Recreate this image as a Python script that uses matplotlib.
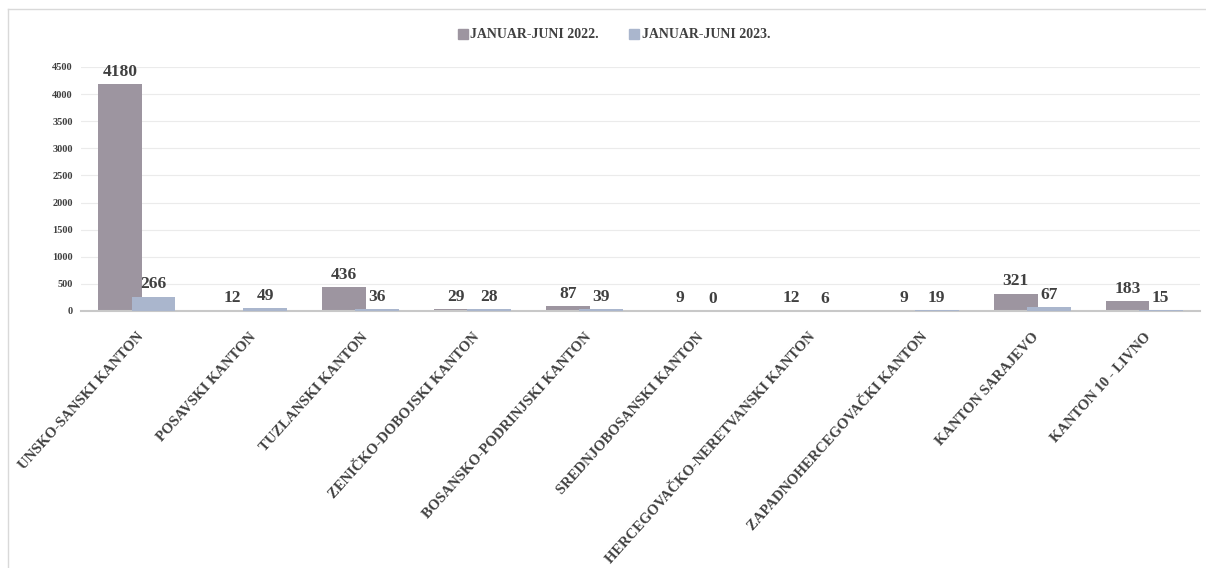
import matplotlib
matplotlib.use('Agg')
import matplotlib.pyplot as plt
import numpy as np
from matplotlib.lines import Line2D

kantoni = ['UNSKO-SANSKI KANTON', 'POSAVSKI KANTON', 'TUZLANSKI KANTON',
           'ZENIČKO-DOBOJSKI KANTON', 'BOSANSKO-PODRINJSKI KANTON',
           'SREDNJOBOSANSKI KANTON', 'HERCEGOVAČKO-NERETVANSKI KANTON',
           'ZAPADNOHERCEGOVAČKI KANTON', 'KANTON SARAJEVO', 'KANTON 10 - LIVNO']
god_2022 = [4180, 12, 436, 29, 87, 9, 12, 9, 321, 183]
god_2023 = [266, 49, 36, 28, 39, 0, 6, 19, 67, 15]
y_ticks = [0, 500, 1000, 1500, 2000, 2500, 3000, 3500, 4000, 4500]

c22 = '#9d95a0'
c23 = '#aab6cd'
txt = '#404040'
serif = ['Liberation Serif', 'DejaVu Serif']

fig = plt.figure(figsize=(12.06, 5.68), dpi=100)
ax = fig.add_axes([81 / 1206, 1 - 311 / 568, 1119 / 1206, 244 / 568])

x = np.arange(len(kantoni))
w = 0.393
off = 0.148
ax.bar(x - off, god_2022, w, color=c22, zorder=2)
ax.bar(x + off, god_2023, w, color=c23, zorder=3)

for xi, v in zip(x, god_2022):
    ax.annotate(str(v), (xi - off, v), xytext=(0, 3), textcoords='offset points',
                ha='center', va='bottom', fontsize=12.5, fontweight='bold',
                color=txt, family=serif, zorder=5)
for xi, v in zip(x, god_2023):
    ax.annotate(str(v), (xi + off, v), xytext=(0, 3), textcoords='offset points',
                ha='center', va='bottom', fontsize=12.5, fontweight='bold',
                color=txt, family=serif, zorder=5)

ax.set_xlim(-0.5, len(kantoni) - 0.5)
ax.set_ylim(0, 4500)
ax.set_yticks(y_ticks)
ax.set_yticklabels([str(t) for t in y_ticks], fontsize=7.5, fontweight='bold',
                   color=txt, family=serif)
ax.set_xticks(x)
ax.set_xticklabels(kantoni, rotation=48, ha='right', rotation_mode='anchor',
                   fontsize=10.5, fontweight='bold', color=txt, family=serif)
ax.tick_params(axis='both', length=0)
ax.tick_params(axis='y', pad=6)
ax.tick_params(axis='x', pad=14)
ax.grid(axis='y', color='#ebebeb', linewidth=0.8, zorder=0)
for s in ['top', 'right', 'left']:
    ax.spines[s].set_visible(False)
ax.spines['bottom'].set_color('#c8c8c8')
ax.spines['bottom'].set_linewidth(1.5)

handles = [Line2D([], [], marker='s', linestyle='none', markersize=7, color=c22),
           Line2D([], [], marker='s', linestyle='none', markersize=7, color=c23)]
fig.legend(handles, ['JANUAR-JUNI 2022.', 'JANUAR-JUNI 2023.'],
           loc='center', bbox_to_anchor=(0.507, 1 - 35 / 568), ncol=2, frameon=False,
           handletextpad=-0.2, columnspacing=1.8, handlelength=1.5,
           prop={'family': serif, 'weight': 'bold', 'size': 10}, labelcolor=txt)

# okvir grafikona
fig.add_artist(Line2D([8 / 1206, 8 / 1206], [0, 1 - 9 / 568], transform=fig.transFigure,
                      color='#d9d9d9', linewidth=1))
fig.add_artist(Line2D([8 / 1206, 1], [1 - 9 / 568, 1 - 9 / 568], transform=fig.transFigure,
                      color='#d9d9d9', linewidth=1))

fig.savefig('out.png', dpi=100)
